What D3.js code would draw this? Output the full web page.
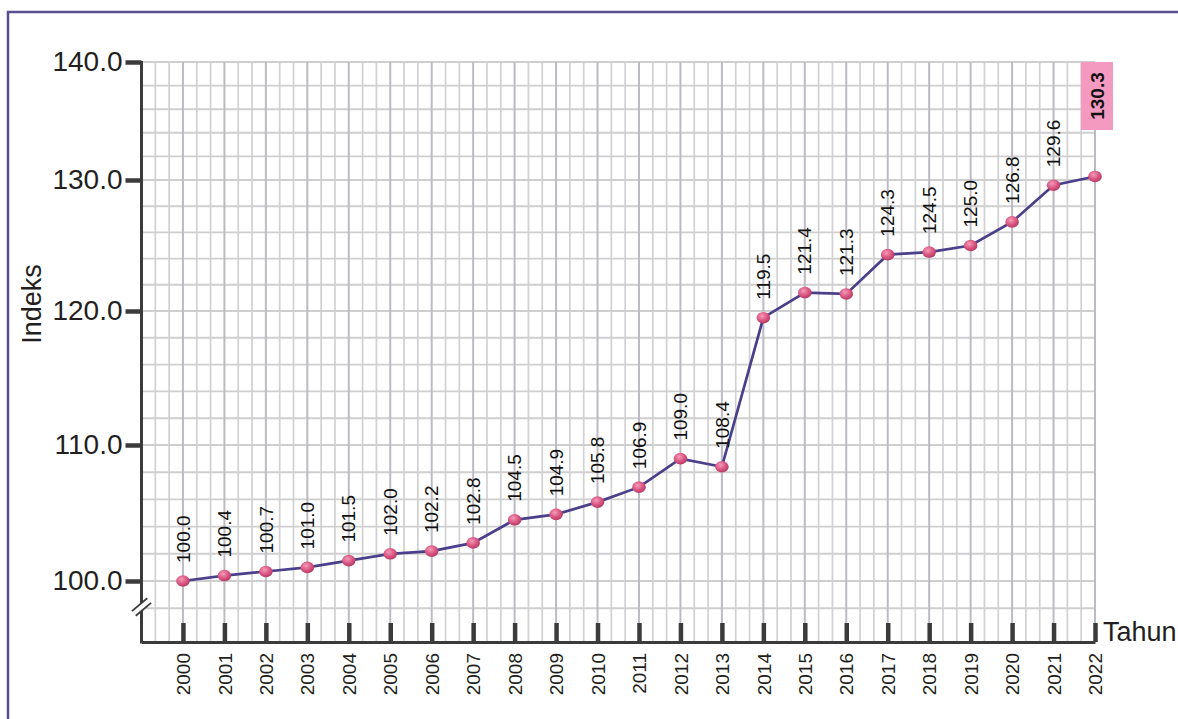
<!DOCTYPE html>
<html lang="id">
<head>
    <meta charset="UTF-8">
    <title>Indeks</title>
    <style>
        body { margin: 0; background: #fff; }
        svg { display: block; font-family: "Liberation Sans", Arial, sans-serif; }
        .grid-minor { stroke: #d1d1d1; stroke-width: 1.7px; }
        .grid-major { stroke: #bcbbc3; stroke-width: 2px; }
        .grid-h { stroke: #cfcfcf; stroke-width: 1.9px; }
        .axis path, .axis line { stroke: #3b3b3b; }
        .axis text { fill: #231f20; }
        .line { fill: none; stroke: #4a3f8b; stroke-width: 2.7px; }
    </style>
</head>
<body>

<svg width="1178" height="719"></svg>

<script src="https://cdn.jsdelivr.net/npm/d3@7"></script>

<script>
    // data
    var years = [2000, 2001, 2002, 2003, 2004, 2005, 2006, 2007, 2008, 2009, 2010, 2011,
                 2012, 2013, 2014, 2015, 2016, 2017, 2018, 2019, 2020, 2021, 2022];
    var indeks = [100.0, 100.4, 100.7, 101.0, 101.5, 102.0, 102.2, 102.8, 104.5, 104.9, 105.8, 106.9,
                  109.0, 108.4, 119.5, 121.4, 121.3, 124.3, 124.5, 125.0, 126.8, 129.6, 130.3];
    var yTicks = [100, 110, 120, 130, 140];

    var data = years.map((d, i) => ({year: d, value: indeks[i]}));

    var svg = d3.select("svg");
    var base = 642;   // x axis line

    // frame
    svg.append("rect")
        .attr("x", 8).attr("y", 12)
        .attr("width", 1300).attr("height", 900)
        .attr("fill", "none")
        .attr("stroke", "#574f8f")
        .attr("stroke-width", 2.5);

    var x = d3.scaleLinear().domain([1999, 2022]).range([141.5, 1095]);
    // the source draws each 10-point band with its own height
    var y = d3.scaleLinear()
        .domain(yTicks)
        .range([581, 445, 311, 180, 62]);

    var g = svg.append("g");

    // vertical grid, three lines per year
    var minor = d3.range(1999 * 3 + 1, 2022 * 3 + 1).map(d => d / 3).filter(d => Math.abs(d - Math.round(d)) > 0.01);
    g.selectAll(".grid-minor")
        .data(minor)
        .enter().append("line")
        .attr("class", "grid-minor")
        .attr("x1", d => x(d)).attr("x2", d => x(d))
        .attr("y1", y(140)).attr("y2", base);

    // horizontal grid every 2 points
    g.selectAll(".grid-h")
        .data(d3.range(98, 141, 2))
        .enter().append("line")
        .attr("class", "grid-h")
        .attr("x1", x(1999)).attr("x2", x(2022))
        .attr("y1", d => y(d)).attr("y2", d => y(d));

    g.selectAll(".grid-major")
        .data(years)
        .enter().append("line")
        .attr("class", "grid-major")
        .attr("x1", d => x(d)).attr("x2", d => x(d))
        .attr("y1", y(140)).attr("y2", base);

    // x axis
    var xAxis = svg.append("g")
        .attr("class", "axis")
        .attr("transform", `translate(0, ${base})`)
        .call(d3.axisBottom(x).tickValues(years).tickFormat(d3.format("d"))
            .tickSizeInner(-19).tickSizeOuter(0));
    xAxis.select(".domain").attr("stroke-width", 3);
    xAxis.selectAll(".tick line").attr("stroke-width", 4.5);
    xAxis.selectAll(".tick text")
        .attr("y", 0).attr("x", -11).attr("dy", "0.35em")
        .attr("transform", "rotate(-90)")
        .style("text-anchor", "end")
        .style("font-size", "19px");

    // y axis
    var yAxis = svg.append("g")
        .attr("class", "axis")
        .attr("transform", `translate(${x(1999)}, 0)`)
        .call(d3.axisLeft(y).tickValues(yTicks).tickFormat(d3.format(".1f"))
            .tickSize(16).tickPadding(3).tickSizeOuter(0));
    yAxis.select(".domain").remove();
    yAxis.selectAll(".tick line").attr("stroke-width", 4.5);
    yAxis.selectAll(".tick text").style("font-size", "28px");
    yAxis.append("line")
        .attr("y1", y(140) - 1).attr("y2", base + 1.5)
        .attr("stroke", "#3b3b3b").attr("stroke-width", 3);

    // axis break
    var brk = yAxis.append("g").attr("transform", "translate(0, 607) rotate(-40)");
    brk.append("rect").attr("x", -10).attr("y", -3).attr("width", 20).attr("height", 6).attr("fill", "#fff");
    brk.append("line").attr("x1", -10).attr("x2", 10).attr("y1", -3).attr("y2", -3).attr("stroke", "#3b3b3b").attr("stroke-width", 1.8);
    brk.append("line").attr("x1", -10).attr("x2", 10).attr("y1", 3).attr("y2", 3).attr("stroke", "#3b3b3b").attr("stroke-width", 1.8);

    // axis titles
    svg.append("text")
        .attr("transform", "translate(41, 304) rotate(-90)")
        .attr("text-anchor", "middle")
        .attr("fill", "#231f20")
        .style("font-size", "27px")
        .text("Indeks");
    svg.append("text")
        .attr("x", 1103).attr("y", 641)
        .attr("fill", "#231f20")
        .style("font-size", "27px")
        .text("Tahun");

    // line + points
    var line = d3.line().x(d => x(d.year)).y(d => y(d.value));
    svg.append("path").datum(data).attr("class", "line").attr("d", line);

    var grad = svg.append("defs").append("radialGradient")
        .attr("id", "dot").attr("cx", "40%").attr("cy", "35%").attr("r", "65%");
    grad.append("stop").attr("offset", "0%").attr("stop-color", "#f59bb9");
    grad.append("stop").attr("offset", "55%").attr("stop-color", "#dc5b85");
    grad.append("stop").attr("offset", "100%").attr("stop-color", "#b93a66");

    svg.selectAll(".dot")
        .data(data)
        .enter().append("ellipse")
        .attr("class", "dot")
        .attr("cx", d => x(d.year)).attr("cy", d => y(d.value))
        .attr("rx", 6.8).attr("ry", 5.8)
        .attr("fill", "url(#dot)");

    // value labels
    var last = data[data.length - 1];
    svg.selectAll(".lbl")
        .data(data.slice(0, -1))
        .enter().append("text")
        .attr("class", "lbl")
        .attr("transform", d => `translate(${x(d.year)}, ${y(d.value) - 18}) rotate(-90)`)
        .attr("dy", "0.35em")
        .attr("fill", "#111")
        .style("font-size", "19px")
        .text(d => d3.format(".1f")(d.value));

    // highlighted latest value
    svg.append("rect")
        .attr("x", x(last.year) - 14).attr("y", y(140))
        .attr("width", 32).attr("height", 68)
        .attr("fill", "#f49ac1");
    svg.append("text")
        .attr("transform", `translate(${x(last.year) + 2}, ${y(140) + 34}) rotate(-90)`)
        .attr("dy", "0.35em")
        .attr("text-anchor", "middle")
        .attr("fill", "#111")
        .style("font-size", "19px")
        .style("font-weight", "bold")
        .text(d3.format(".1f")(last.value));
</script>

</body>
</html>
